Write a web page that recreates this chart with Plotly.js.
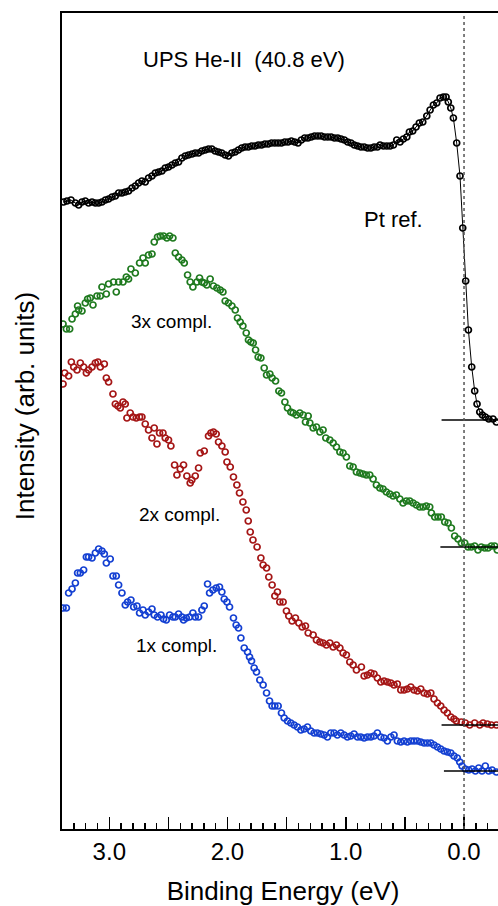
<!DOCTYPE html>
<html>
<head>
<meta charset="utf-8">
<script src="https://cdn.plot.ly/plotly-3.0.1.min.js"></script>
<style>
  html, body { margin: 0; padding: 0; overflow: hidden; background: #fff; }
  #chart { width: 504px; height: 906px; }
</style>
</head>
<body>
<div id="chart"></div>
<script>
// ---- Data (binding energy in eV, intensity in arb. units, curves offset vertically) ----
const ptRefEnergy = [3.386,3.358,3.324,3.287,3.259,3.231,3.203,3.175,3.146,3.118,3.090,3.062,3.033,3.006,2.977,2.949,2.921,2.893,2.865,2.837,2.808,2.780,2.752,2.724,2.696,2.668,2.639,2.611,2.583,2.555,2.527,2.499,2.470,2.442,2.414,2.386,2.358,2.330,2.300,2.273,2.245,2.217,2.189,2.161,2.133,2.105,2.077,2.049,2.020,1.992,1.964,1.936,1.908,1.880,1.852,1.824,1.796,1.768,1.740,1.712,1.684,1.656,1.628,1.600,1.572,1.544,1.516,1.488,1.460,1.432,1.404,1.376,1.348,1.320,1.292,1.264,1.236,1.208,1.180,1.152,1.124,1.096,1.068,1.040,1.012,0.984,0.956,0.928,0.900,0.872,0.844,0.816,0.788,0.760,0.732,0.710,0.682,0.653,0.625,0.597,0.569,0.541,0.513,0.484,0.462,0.434,0.406,0.378,0.349,0.315,0.287,0.259,0.231,0.203,0.175,0.152,0.133,0.112,0.090,0.062,0.034,0.011,-0.014,-0.037,-0.065,-0.090,-0.110,-0.133,-0.155,-0.180,-0.209,-0.245,-0.273];
const ptRefIntensity = [627,628,629,626,624,627,628,626,627,626,626,627,629,630,632,633,636,636,637,638,641,643,646,648,647,651,653,656,657,658,661,662,664,666,667,671,673,674,675,676,676,678,679,680,680,678,677,676,674,673,676,677,679,681,682,682,683,683,684,684,685,685,686,686,686,686,687,687,688,687,686,689,691,691,692,693,693,693,692,692,692,691,691,690,689,687,686,684,683,682,682,681,681,682,682,684,683,683,683,684,689,687,690,692,697,698,702,706,707,713,719,724,726,731,732,732,727,721,711,686,653,601,548,499,462,438,425,417,414,412,410,410,407];

const compl3Energy = [3.391,3.363,3.335,3.315,3.287,3.268,3.259,3.231,3.203,3.183,3.161,3.138,3.104,3.076,3.062,3.025,3.006,2.964,2.941,2.921,2.884,2.856,2.837,2.817,2.780,2.744,2.715,2.696,2.668,2.639,2.620,2.592,2.569,2.541,2.513,2.490,2.462,2.442,2.414,2.386,2.366,2.338,2.316,2.293,2.259,2.237,2.217,2.197,2.175,2.147,2.119,2.090,2.062,2.039,2.020,1.992,1.963,1.935,1.916,1.893,1.870,1.842,1.823,1.803,1.783,1.763,1.741,1.718,1.690,1.670,1.642,1.623,1.594,1.566,1.544,1.515,1.493,1.465,1.445,1.417,1.389,1.361,1.341,1.318,1.304,1.276,1.248,1.219,1.192,1.169,1.135,1.107,1.079,1.050,1.023,0.995,0.966,0.938,0.910,0.881,0.854,0.826,0.797,0.769,0.741,0.712,0.685,0.657,0.628,0.600,0.572,0.543,0.516,0.488,0.459,0.431,0.403,0.374,0.346,0.319,0.290,0.276,0.248,0.220,0.192,0.163,0.135,0.107,0.079,0.051,0.023,-0.006,-0.034,-0.062,-0.090,-0.118,-0.146,-0.175,-0.203,-0.231,-0.259,-0.281];
const compl3Intensity = [505,500,500,510,515,523,519,518,526,530,531,524,533,533,542,535,545,547,537,547,547,552,550,560,556,566,571,566,574,575,587,592,593,593,591,593,591,576,572,569,566,554,547,542,547,551,547,546,544,550,543,541,539,537,528,526,523,519,511,507,503,496,489,487,486,479,472,471,461,454,455,451,448,438,436,427,421,417,416,414,416,414,407,413,406,401,402,397,399,391,389,386,382,377,376,372,363,362,357,356,355,354,354,350,344,341,340,337,335,333,334,330,326,328,328,326,324,322,322,323,322,316,312,312,312,307,306,301,293,290,286,286,282,282,283,279,282,281,281,283,283,279];

const compl2Energy = [3.391,3.377,3.344,3.321,3.301,3.273,3.245,3.217,3.194,3.175,3.146,3.118,3.096,3.076,3.042,3.025,3.006,2.969,2.949,2.927,2.907,2.884,2.865,2.851,2.823,2.800,2.772,2.744,2.724,2.696,2.668,2.639,2.620,2.597,2.575,2.546,2.527,2.499,2.479,2.448,2.428,2.400,2.372,2.344,2.316,2.302,2.273,2.245,2.231,2.197,2.161,2.141,2.119,2.096,2.076,2.048,2.020,2.005,1.977,1.950,1.921,1.899,1.870,1.842,1.825,1.808,1.785,1.750,1.718,1.699,1.670,1.651,1.623,1.600,1.578,1.558,1.530,1.502,1.482,1.454,1.426,1.397,1.369,1.341,1.318,1.276,1.248,1.219,1.192,1.164,1.135,1.107,1.079,1.050,1.023,0.995,0.966,0.938,0.910,0.868,0.845,0.817,0.788,0.761,0.733,0.704,0.676,0.648,0.619,0.592,0.564,0.535,0.507,0.479,0.450,0.423,0.395,0.366,0.338,0.310,0.281,0.254,0.225,0.197,0.169,0.141,0.112,0.085,0.065,0.023,-0.011,-0.048,-0.090,-0.133,-0.161,-0.197,-0.231,-0.273];
const compl2Intensity = [445,456,453,467,462,459,466,462,456,459,462,466,467,462,465,451,447,435,425,423,421,427,425,411,416,412,411,412,412,405,399,391,401,385,396,396,391,389,383,364,354,360,364,353,346,349,353,361,376,378,393,396,397,395,387,383,377,367,362,352,344,336,327,319,308,297,289,282,271,264,261,252,244,233,237,227,227,218,213,208,211,206,202,203,196,194,189,187,186,184,186,182,184,181,176,174,167,164,159,162,153,154,156,155,151,147,148,147,146,144,145,139,139,140,142,139,138,140,136,135,136,130,126,123,119,116,112,110,108,107,106,104,106,104,106,105,104,104];

const compl1Energy = [3.391,3.363,3.344,3.315,3.287,3.268,3.245,3.217,3.194,3.175,3.146,3.118,3.090,3.062,3.042,3.025,2.992,2.969,2.941,2.921,2.893,2.865,2.845,2.817,2.794,2.766,2.744,2.715,2.696,2.668,2.639,2.620,2.592,2.563,2.541,2.518,2.490,2.462,2.442,2.414,2.386,2.372,2.349,2.321,2.293,2.273,2.245,2.217,2.197,2.169,2.152,2.124,2.096,2.068,2.048,2.028,2.005,1.983,1.950,1.927,1.907,1.887,1.859,1.831,1.814,1.797,1.775,1.755,1.727,1.699,1.670,1.645,1.623,1.600,1.572,1.544,1.521,1.493,1.465,1.437,1.409,1.380,1.352,1.324,1.296,1.268,1.240,1.211,1.183,1.155,1.127,1.099,1.071,1.042,1.014,0.986,0.958,0.930,0.901,0.873,0.845,0.817,0.788,0.761,0.733,0.704,0.676,0.648,0.619,0.592,0.564,0.535,0.507,0.479,0.450,0.423,0.395,0.366,0.338,0.310,0.281,0.254,0.225,0.197,0.169,0.141,0.112,0.085,0.057,0.036,0.017,-0.011,-0.040,-0.068,-0.096,-0.124,-0.152,-0.180,-0.209,-0.237,-0.273];
const compl1Intensity = [221,221,236,240,246,256,256,259,272,272,271,276,280,278,275,266,270,253,253,244,236,224,227,229,222,223,216,219,214,217,220,214,212,214,210,209,214,212,212,215,212,209,211,212,216,212,212,219,223,245,236,239,241,242,237,230,227,222,211,204,201,191,181,177,172,168,161,157,149,144,136,128,123,123,123,116,111,108,106,104,102,99,100,102,98,96,96,95,94,92,96,96,94,96,94,92,93,95,92,92,91,92,92,93,96,92,91,88,92,94,88,87,88,87,88,88,88,87,86,86,86,84,82,80,78,77,76,73,71,67,63,60,59,60,58,61,58,63,58,59,57];

// Zero-intensity reference levels of each spectrum and where the short marker line starts
const baselineLevels = [409, 282, 104, 58];
const baselineStart = [0.19, 0.20, 0.19, 0.17];

const seriesColors = ['#000000', '#1f7a1f', '#a51616', '#1440d2'];
const xTickVals = [3, 2.5, 2, 1.5, 1, 0.5, 0];
const xTickText = ['3.0', '', '2.0', '', '1.0', '', '0.0'];

const labelTexts = ['UPS He-II&nbsp;&nbsp;(40.8 eV)', 'Pt ref.', '3x compl.', '2x compl.', '1x compl.'];
const labelX = [1.86, 0.60, 2.47, 2.41, 2.43];
const labelY = [770, 610, 508, 315, 184];
const labelSizes = [22, 22, 19, 19, 19];

const X_RANGE = [3.40, -0.338];
const FONT = 'Liberation Sans, Arial, Helvetica, sans-serif';

const markerStyle = (c) => ({ symbol: 'circle-open', size: 6, color: c, line: { width: 1.7, color: c } });

const traces = [
  { x: ptRefEnergy, y: ptRefIntensity, mode: 'lines+markers', line: { color: seriesColors[0], width: 1 }, marker: markerStyle(seriesColors[0]) },
  { x: compl3Energy, y: compl3Intensity, mode: 'markers', marker: markerStyle(seriesColors[1]) },
  { x: compl2Energy, y: compl2Intensity, mode: 'markers', marker: markerStyle(seriesColors[2]) },
  { x: compl1Energy, y: compl1Intensity, mode: 'markers', marker: markerStyle(seriesColors[3]) }
];
baselineLevels.forEach((lvl, i) => {
  traces.push({ x: [baselineStart[i], X_RANGE[1]], y: [lvl, lvl], mode: 'lines', line: { color: '#000', width: 1.3 } });
});

const annotations = labelTexts.map((t, i) => ({
  text: t, x: labelX[i], y: labelY[i], xref: 'x', yref: 'y', showarrow: false,
  font: { family: FONT, size: labelSizes[i], color: '#000' }, xanchor: 'center', yanchor: 'middle'
}));
annotations.push({
  text: 'Intensity (arb. units)', textangle: -90, xref: 'paper', yref: 'paper',
  x: -0.084, y: 0.518, showarrow: false, xanchor: 'center', yanchor: 'middle',
  font: { family: FONT, size: 26, color: '#000' }
});

const layout = {
  width: 504, height: 906,
  margin: { l: 62, r: 0, t: 13, b: 77, autoexpand: false },
  paper_bgcolor: '#fff', plot_bgcolor: '#fff',
  showlegend: false,
  font: { family: FONT, color: '#000' },
  xaxis: {
    range: X_RANGE, autorange: false,
    tickmode: 'array', tickvals: xTickVals, ticktext: xTickText,
    ticks: 'inside', ticklen: 11, tickwidth: 1.5, tickcolor: '#000',
    minor: { dtick: 0.1, tick0: 0, ticks: 'inside', ticklen: 6, tickwidth: 1.5, tickcolor: '#000', showgrid: false },
    tickfont: { family: FONT, size: 24, color: '#000' },
    showline: true, linewidth: 2, linecolor: '#000', mirror: true,
    showgrid: false, zeroline: false,
    title: { text: 'Binding Energy (eV)', font: { family: FONT, size: 26, color: '#000' }, standoff: 19 }
  },
  yaxis: {
    range: [0, 816], autorange: false,
    showticklabels: false, ticks: '',
    showline: true, linewidth: 2, linecolor: '#000', mirror: true,
    showgrid: false, zeroline: false
  },
  shapes: [{
    type: 'line', xref: 'x', yref: 'paper', x0: 0, x1: 0, y0: 0, y1: 1,
    line: { color: '#555', width: 1.5, dash: 'dot' }
  }],
  annotations: annotations
};

Plotly.newPlot('chart', traces, layout, { staticPlot: true, displayModeBar: false }).then((gd) => {
  return Plotly.relayout(gd, { 'xaxis.ticklen': 12 });
});
</script>
</body>
</html>
